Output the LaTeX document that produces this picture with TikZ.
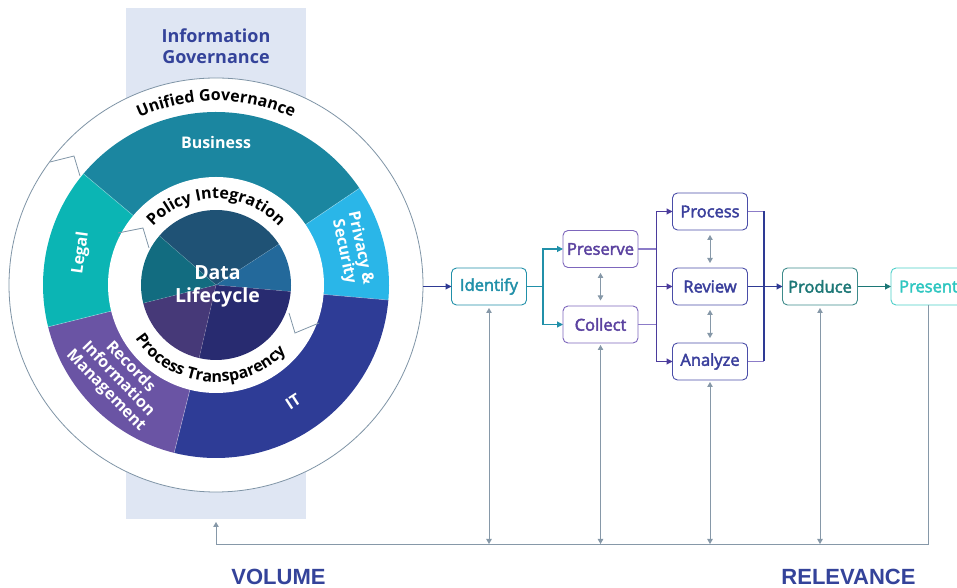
\documentclass[tikz,border=0pt]{standalone}
\usepackage{fontspec}
\setmainfont{Open Sans}
\newfontfamily\boxfontfam[FakeBold=2.5]{Open Sans}
\newfontfamily\arialfam{Liberation Sans}
\usetikzlibrary{arrows.meta,decorations.text}
\definecolor{bandcol}{HTML}{DFE6F3}
\definecolor{igcol}{HTML}{34439A}
\definecolor{ringcol}{HTML}{7F94A6}
\definecolor{buscol}{HTML}{1B86A0}
\definecolor{legcol}{HTML}{0BB5B4}
\definecolor{privcol}{HTML}{2AB6E8}
\definecolor{itcol}{HTML}{2E3C96}
\definecolor{rimcol}{HTML}{6A54A4}
\definecolor{pieAcol}{HTML}{1F5275}
\definecolor{pieBcol}{HTML}{23699B}
\definecolor{pieCcol}{HTML}{282B70}
\definecolor{pieDcol}{HTML}{463978}
\definecolor{pieEcol}{HTML}{126C80}
\definecolor{idcol}{HTML}{2190A9}
\definecolor{pctextcol}{HTML}{5B42A0}
\definecolor{pclinecol}{HTML}{7D66BC}
\definecolor{pratextcol}{HTML}{3A3F9C}
\definecolor{pralinecol}{HTML}{4A4DA8}
\definecolor{prodcol}{HTML}{1C7776}
\definecolor{prescol}{HTML}{2DC6C0}
\definecolor{graycol}{HTML}{8698A8}
\definecolor{joincol}{HTML}{4B3B9C}
\definecolor{stubcol}{HTML}{8C7CC8}
\definecolor{navycol}{HTML}{2E3A94}
\newcommand{\curvefont}{\fontsize{16}{16}\selectfont\bfseries}
\begin{document}
\begin{tikzpicture}[x=1pt,y=1pt,
  boxstyle/.style={draw, rounded corners=5pt, minimum width=75pt, minimum height=37pt,
    inner sep=0pt, outer sep=0pt, line width=0.9pt, fill=white,
    font=\boxfontfam\fontsize{16.5}{18}\selectfont},
  arr/.style={-{Triangle[length=6pt,width=6pt]}},
  conn/.style={line width=1.1pt},
  gline/.style={draw=graycol, line width=0.9pt},
  gtip/.style={{Triangle[length=5pt,width=5.5pt]}-{Triangle[length=5pt,width=5.5pt]}},
  ringlabel/.style={text=white, font=\bfseries\fontsize{16}{17}\selectfont, inner sep=0pt},
  bottomlabel/.style={text=igcol, font=\arialfam\bfseries\fontsize{22}{24}\selectfont, inner sep=0pt}
]
\useasboundingbox (0,0) rectangle (957,588);
\clip (0,0) rectangle (957,588);
\fill[white] (0,0) rectangle (957,588);

% band
\node[fill=bandcol, minimum width=180pt, minimum height=511pt, inner sep=0pt, outer sep=0pt] (band) at (216,324.5) {};
\node[text=igcol, align=center, font=\bfseries\fontsize{18}{21}\selectfont, inner sep=0pt] (ig) at (216,542) {Information\\Governance};

% wheel
\coordinate (C) at (216,303);
\draw[draw=ringcol, line width=0.8pt, fill=white] (C) circle[radius=207];
\foreach \a/\b/\c in {34/140/buscol, -5/34/privcol, -104/-5/itcol, 194/256/rimcol, 140/194/legcol}
  \fill[\c] (C) -- ([shift={(\a:173)}]C) arc[start angle=\a, end angle=\b, radius=173] -- cycle;
\foreach \a in {34,-5,-104,194,140}
  \draw[white, opacity=0.35, line width=0.6pt] ([shift={(\a:108)}]C) -- ([shift={(\a:173)}]C);
\fill[white] (C) circle[radius=108];
\foreach \a/\b/\c in {33/139/pieAcol, -5/33/pieBcol, -103/-5/pieCcol, 194/257/pieDcol, 139/194/pieEcol}
  \fill[\c] (C) -- ([shift={(\a:75)}]C) arc[start angle=\a, end angle=\b, radius=75] -- cycle;
\foreach \a in {33,-5,-103,194,139}
  \draw[white, opacity=0.2, line width=0.5pt] (C) -- ([shift={(\a:75)}]C);

% notches
\draw[ringcol, line width=0.8pt] (50,426) -- (74,432) -- (80,412);
\draw[ringcol, line width=0.8pt] (118,355) -- (143,360) -- (149,340);
\draw[ringcol, line width=0.8pt] (289,275) -- (295,255) -- (319,265);

% curved texts
\path[decorate, decoration={text along path, text align=center, text color=black,
  text={|\curvefont|Unified Governance}}]
  ([shift={(150:184)}]C) arc[start angle=150, end angle=30, radius=184];
\path[decorate, decoration={text along path, text align=center, text color=black,
  text={|\curvefont|Policy Integration}}]
  ([shift={(170:86)}]C) arc[start angle=170, end angle=10, radius=86];
\path[decorate, decoration={text along path, text align=center, text color=black,
  text={|\curvefont|Process Transparency}}]
  ([shift={(184:97)}]C) arc[start angle=184, end angle=346, radius=97];

% ring labels
\node[ringlabel] (lbus) at (216,445) {Business};
\node[ringlabel, rotate=82] (lleg) at (81,335) {Legal};
\node[ringlabel, rotate=-78, align=center] (lpriv) at (352,338) {Privacy \&\\Security};
\node[ringlabel, rotate=33] (lit) at (293,186) {IT};
\node[ringlabel, rotate=-46, align=center] (lrim) at (118,209) {Records\\Information\\Management};
\node[text=white, align=center, font=\bfseries\fontsize{19.5}{23}\selectfont, inner sep=0pt] (data) at (217.5,301.5) {Data\\Lifecycle};

% process boxes
\node[boxstyle, draw=idcol, text=idcol] (idf) at (489,301.5) {Identify};
\node[boxstyle, draw=pclinecol, text=pctextcol] (pre) at (600.5,339) {Preserve};
\node[boxstyle, draw=pclinecol, text=pctextcol] (col) at (600.5,263.5) {Collect};
\node[boxstyle, draw=pralinecol, text=pratextcol] (proc) at (710,376.5) {Process};
\node[boxstyle, draw=pralinecol, text=pratextcol] (rev) at (710,301.5) {Review};
\node[boxstyle, draw=pralinecol, text=pratextcol] (ana) at (710,226.5) {Analyze};
\node[boxstyle, draw=prodcol!85, text=prodcol] (prod) at (820,301.5) {Produce};
\node[boxstyle, draw=prescol!85, text=prescol] (pres) at (928.5,301.5) {Present};

% main flow
\coordinate (ringout) at (423,301.5);
\draw[conn, navycol, arr] (ringout) -- (idf.west);
\draw[conn, idcol, arr] (idf.east) -- ++(16.5,0) |- (pre.west);
\draw[conn, idcol, arr] (idf.east) -- ++(16.5,0) |- (col.west);
\draw[conn, stubcol] (pre.east) -- ++(18.5,0) coordinate (pj1);
\draw[conn, stubcol] (col.east) -- ++(18.5,0) coordinate (pj2);
\draw[conn, joincol, arr] (pj1) |- (proc.west);
\draw[conn, joincol, arr] (pj1) |- (rev.west);
\draw[conn, joincol] (pj2) -- (pj1);
\draw[conn, joincol, arr] (pj2) |- (ana.west);
\draw[conn, stubcol] (proc.east) -- ++(16.5,0) coordinate (rj1);
\draw[conn, stubcol] (ana.east) -- ++(16.5,0) coordinate (rj2);
\draw[conn, navycol] (rj1) -- (rj2);
\draw[conn, navycol, arr] (rev.east) -- (prod.west);
\draw[conn, prodcol, arr] (prod.east) -- (pres.west);

% gray double arrows
\draw[gline, gtip, shorten <=5.5pt, shorten >=5.5pt] (pre.south) -- (col.north);
\draw[gline, gtip, shorten <=5pt, shorten >=5pt] (proc.south) -- (rev.north);
\draw[gline, gtip, shorten <=5pt, shorten >=5pt] (rev.south) -- (ana.north);

% feedback loop
\coordinate (bl) at (216,44);
\draw[gline, -{Triangle[length=5pt,width=5.5pt]}, shorten >=3pt] (pres.south) |- (bl) -- (band.south);
\draw[gline, gtip, shorten <=3pt] (idf.south) -- (idf.south |- bl);
\draw[gline, gtip, shorten <=2pt] (col.south) -- (col.south |- bl);
\draw[gline, gtip, shorten <=2pt] (ana.south) -- (ana.south |- bl);
\draw[gline, gtip, shorten <=3pt] (prod.south) -- (prod.south |- bl);

% bottom labels
\node[bottomlabel] (vol) at (278.5,11) {VOLUME};
\node[bottomlabel] (relv) at (848.5,11) {RELEVANCE};
\end{tikzpicture}
\end{document}
